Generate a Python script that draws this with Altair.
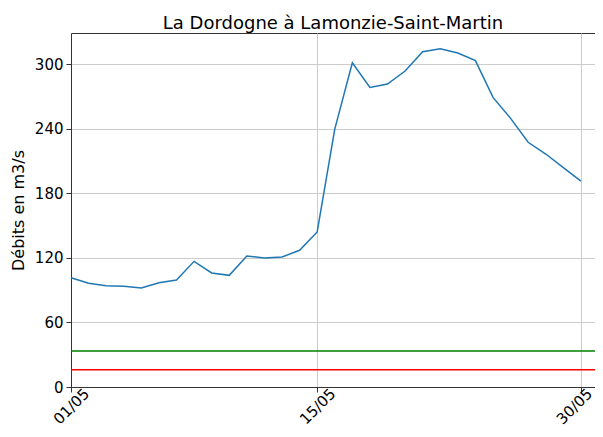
import altair as alt
import pandas as pd

# ---- data ----
jours = ["01/05", "02/05", "03/05", "04/05", "05/05", "06/05", "07/05", "08/05",
         "09/05", "10/05", "11/05", "12/05", "13/05", "14/05", "15/05", "16/05",
         "17/05", "18/05", "19/05", "20/05", "21/05", "22/05", "23/05", "24/05",
         "25/05", "26/05", "27/05", "28/05", "29/05", "30/05"]
debits = [101.5, 96.3, 94.1, 93.5, 92.0, 96.9, 99.4, 116.7, 105.9, 103.7,
          121.7, 119.8, 120.7, 127.0, 144.0, 239.6, 301.2, 278.3, 281.4, 293.5,
          311.4, 314.2, 310.2, 303.1, 269.0, 249.5, 227.3, 216.4, 203.7, 191.3]

seuil_noms = ["seuil haut", "seuil bas"]
seuil_valeurs = [33.5, 16.0]
seuil_couleurs = ["#008000", "#ff0000"]

x_ticks = ["01/05", "15/05", "30/05"]
y_ticks = [0, 60, 120, 180, 240, 300]

df = pd.DataFrame({
    "jour": [int(j[:2]) for j in jours],
    "label": jours,
    "debit": debits,
})
ds = pd.DataFrame({"nom": seuil_noms, "valeur": seuil_valeurs, "couleur": seuil_couleurs})

FONT = "DejaVu Sans"
Y_TITLE = "Débits en m3/s"
y_scale = alt.Scale(domain=[0, 328.8], nice=False, zero=True)
x_scale = alt.Scale(domain=[1, 30.8], nice=False, zero=False)

x_axis = alt.Axis(
    values=[int(t[:2]) for t in x_ticks],
    labelExpr="(datum.value < 10 ? '0' : '') + datum.value + '/05'",
    labelAngle=-45, labelAlign="center", labelBaseline="middle",
    labelPadding=14, tickSize=5, title=None, grid=True,
    labelOffset={"condition": {"test": "datum.value >= 30", "value": -7}, "value": 0},
    labelOverlap=False, labelFlush=False, labelBound=False,
)
y_axis = alt.Axis(
    values=y_ticks, grid=True, tickSize=5, labelPadding=3,
    title=Y_TITLE, titleFontSize=16, titleX=-53, titleY=177,
    titleAngle=270, titleAlign="center", titleBaseline="middle",
)

rules = alt.Chart(ds).mark_rule(strokeWidth=1.5).encode(
    y=alt.Y("valeur:Q", scale=y_scale, axis=y_axis, title=Y_TITLE),
    color=alt.Color("couleur:N", scale=None, legend=None),
)

line = alt.Chart(df).mark_line(color="#1f77b4", strokeWidth=1.5).encode(
    x=alt.X("jour:Q", scale=x_scale, axis=x_axis),
    y=alt.Y("debit:Q", scale=y_scale, axis=y_axis, title=Y_TITLE),
)

chart = alt.layer(rules, line).properties(
    width=524, height=354,
    title=alt.Title("La Dordogne à Lamonzie-Saint-Martin", fontSize=18,
                    fontWeight="normal", font=FONT, offset=6, frame="group",
                    baseline="alphabetic", anchor="middle", color="black", dy=20),
    padding={"left": 63, "top": 25, "right": 0, "bottom": 42},
    autosize=alt.AutoSizeParams(type="none"),
).configure_view(
    stroke="#333333", strokeWidth=1,
).configure_axis(
    labelFont=FONT, titleFont=FONT, labelFontSize=15, labelColor="black",
    titleColor="black", titleFontWeight="normal",
    gridColor="#cccccc", gridWidth=1, domainColor="#333333",
    tickColor="#333333",
)

chart.save("out.html", embed_options={"renderer": "svg", "actions": False})
